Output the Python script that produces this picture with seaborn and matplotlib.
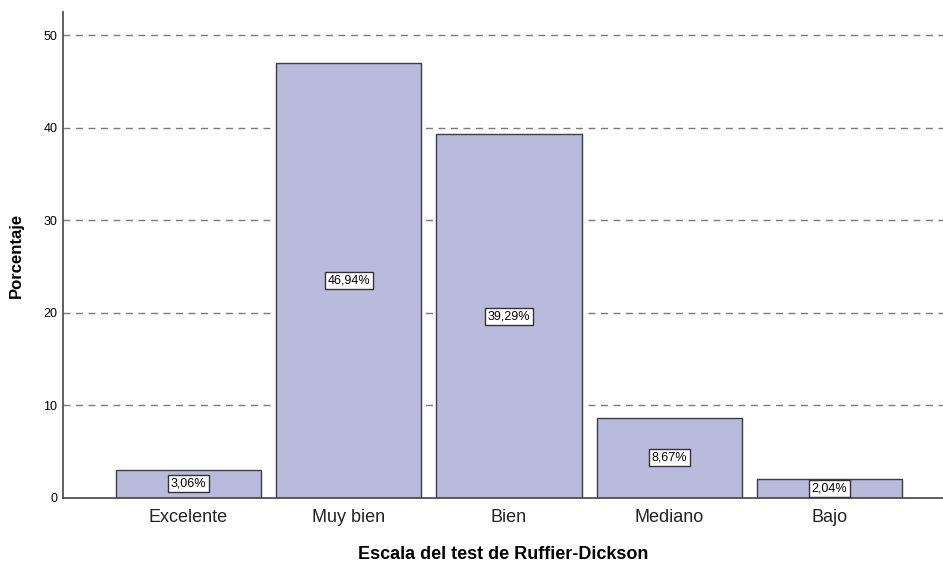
import matplotlib
matplotlib.use("Agg")
import matplotlib.pyplot as plt
import seaborn as sns
import pandas as pd

categorias = ["Excelente", "Muy bien", "Bien", "Mediano", "Bajo"]
porcentajes = [3.06, 46.94, 39.29, 8.67, 2.04]
etiquetas = ["3,06%", "46,94%", "39,29%", "8,67%", "2,04%"]
ticks_y = [0, 10, 20, 30, 40, 50]

sns.set_theme(style="white")
plt.rcParams["font.family"] = ["Liberation Sans", "DejaVu Sans"]
plt.rcParams["text.color"] = "black"
plt.rcParams["axes.labelcolor"] = "black"
plt.rcParams["xtick.color"] = "black"
plt.rcParams["ytick.color"] = "black"

df = pd.DataFrame({"categoria": categorias, "porcentaje": porcentajes})

fig = plt.figure(figsize=(9.43, 5.65), dpi=100)
ax = fig.add_axes([0.0668, 0.1186, 0.9332, 0.8602])

sns.barplot(data=df, x="categoria", y="porcentaje", order=categorias,
            color="#B9BADC", saturation=1, width=0.905,
            edgecolor="#3C3C4A", linewidth=1.0, ax=ax, zorder=2)

for i, (v, t) in enumerate(zip(porcentajes, etiquetas)):
    ax.text(i, v / 2, t, ha="center", va="center", fontsize=9, color="black",
            zorder=4,
            bbox=dict(boxstyle="square,pad=0.2", facecolor="white",
                      edgecolor="#333333", linewidth=1.0))

ax.set_xlim(-0.783, 4.708)
ax.set_ylim(0, 52.5)
ax.set_yticks(ticks_y)
ax.set_yticklabels([str(t) for t in ticks_y], fontsize=9)
ax.tick_params(axis="x", labelsize=13, length=0, pad=8, labelcolor="#222222")
ax.tick_params(axis="y", length=0, pad=4)

for y in ticks_y[1:]:
    ax.axhline(y, color="#7A7A7A", linewidth=1.0, linestyle=(0, (5, 4)), zorder=1)

for s in ["top", "right"]:
    ax.spines[s].set_visible(False)
for s in ["left", "bottom"]:
    ax.spines[s].set_color("#444444")
    ax.spines[s].set_linewidth(1.2)

ax.set_xlabel("Escala del test de Ruffier-Dickson", fontsize=13,
              fontweight="bold", labelpad=14)
ax.set_ylabel("Porcentaje", fontsize=12, fontweight="bold", labelpad=14)

fig.savefig("out.png", dpi=100)
